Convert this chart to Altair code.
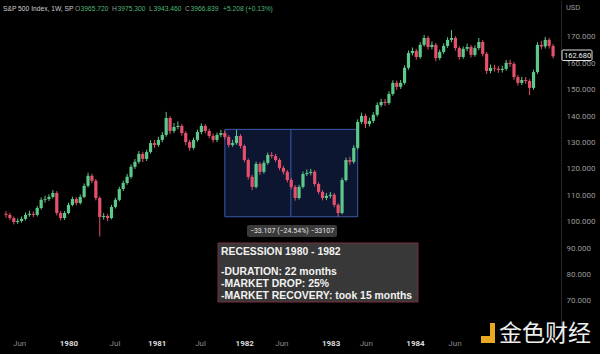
import altair as alt
import pandas as pd

# ---- data (weekly S&P 500, resampled to ~2-week candles) ----
first_open = 103.0
closes = [102.6, 101.4, 99.9, 100.3, 101.1, 102.6, 103.0, 102.6, 105.2, 108.3,
          108.6, 109.4, 110.9, 103.3, 101.4, 103.3, 106.4, 108.6, 107.1, 109.4,
          113.6, 117.4, 115.5, 109.0, 101.8, 102.2, 101.4, 105.6, 108.3, 112.4,
          114.7, 117.0, 120.8, 122.7, 125.7, 123.8, 126.4, 129.8, 129.1, 131.0,
          132.9, 139.3, 134.4, 135.9, 136.3, 133.6, 130.2, 128.0, 131.0, 134.0,
          136.3, 134.4, 132.5, 131.0, 132.9, 133.6, 132.1, 129.1, 129.8, 132.5,
          128.7, 123.4, 117.0, 113.2, 121.9, 118.9, 122.3, 125.3, 124.9, 123.4,
          120.4, 118.9, 115.8, 113.2, 109.0, 113.2, 118.1, 118.5, 118.9, 114.3,
          111.3, 109.0, 109.8, 110.2, 106.4, 103.3, 115.8, 123.4, 122.7, 128.0,
          137.8, 140.1, 137.0, 138.2, 140.5, 144.2, 145.4, 145.0, 148.4, 152.6,
          151.1, 152.6, 158.3, 163.9, 164.7, 162.4, 167.0, 169.6, 166.2, 167.0,
          162.0, 164.3, 166.6, 168.9, 169.6, 165.8, 162.4, 165.5, 166.2, 163.2,
          165.8, 168.1, 163.6, 157.1, 158.3, 158.0, 157.5, 157.9, 160.2, 159.8,
          154.8, 152.6, 153.7, 153.3, 150.7, 156.7, 167.0, 166.4, 168.9, 166.6,
          162.68]
highs = [104.0, 103.4, 102.0, 101.2, 102.0, 103.5, 104.2, 103.9, 106.0, 109.2,
         109.9, 110.4, 112.0, 111.6, 104.1, 104.0, 107.2, 109.5, 109.3, 110.3,
         114.5, 118.6, 118.2, 116.2, 109.6, 103.3, 103.0, 106.4, 109.1, 113.3,
         115.6, 118.1, 121.7, 123.8, 126.8, 126.5, 127.3, 130.9, 131.0, 132.2,
         134.0, 141.6, 140.0, 137.4, 138.0, 137.0, 134.3, 131.0, 131.9, 134.9,
         137.3, 137.0, 135.2, 133.4, 133.8, 134.8, 134.5, 132.8, 131.0, 134.8,
         133.2, 129.3, 124.0, 117.8, 122.8, 122.6, 123.2, 126.2, 126.4, 125.7,
         124.1, 121.2, 119.6, 116.6, 113.9, 114.0, 119.0, 119.8, 120.0, 119.6,
         115.0, 112.0, 110.9, 111.3, 110.9, 107.0, 116.7, 124.3, 124.6, 129.0,
         138.8, 141.3, 140.9, 139.4, 141.5, 145.2, 146.6, 146.5, 149.4, 153.6,
         153.5, 153.7, 159.3, 164.9, 166.0, 165.5, 168.0, 170.8, 170.4, 168.3,
         167.7, 165.2, 167.6, 169.9, 172.6, 170.3, 166.5, 166.4, 167.5, 167.0,
         166.8, 169.6, 168.8, 164.3, 159.6, 159.5, 159.0, 159.1, 161.3, 161.4,
         160.5, 155.6, 154.9, 154.8, 154.0, 157.6, 168.0, 168.5, 170.0, 169.7,
         167.3]
lows = [101.5, 100.6, 99.0, 99.2, 99.6, 100.5, 101.9, 101.7, 102.0, 104.6,
        107.2, 107.9, 108.8, 102.4, 100.5, 100.7, 102.8, 105.9, 106.2, 106.5,
        108.9, 113.0, 114.6, 108.1, 94.4, 100.8, 100.2, 100.9, 105.0, 107.7,
        111.6, 114.0, 116.3, 120.0, 122.0, 122.6, 123.0, 125.8, 128.0, 128.4,
        130.1, 132.2, 133.2, 133.6, 135.0, 132.6, 129.0, 126.9, 127.3, 130.3,
        133.2, 133.5, 131.6, 130.0, 130.2, 132.0, 131.2, 128.2, 128.4, 129.2,
        127.8, 122.5, 116.0, 112.0, 112.6, 117.8, 118.2, 121.6, 124.0, 122.6,
        119.5, 117.9, 114.9, 112.3, 108.0, 108.4, 112.6, 117.3, 117.6, 113.4,
        110.4, 108.1, 108.2, 108.9, 105.5, 101.9, 102.8, 115.2, 121.6, 122.0,
        127.4, 137.0, 135.5, 136.1, 137.4, 139.8, 143.4, 143.9, 144.3, 147.7,
        150.0, 150.3, 151.9, 157.6, 163.0, 161.4, 161.7, 166.3, 165.2, 165.3,
        160.8, 161.2, 163.6, 165.9, 168.0, 164.8, 161.4, 161.7, 164.6, 162.2,
        162.5, 165.0, 162.6, 156.0, 156.2, 156.9, 156.4, 156.5, 157.2, 158.7,
        153.8, 151.6, 151.8, 152.2, 148.0, 150.0, 156.0, 165.3, 165.6, 165.6,
        161.9]

tick_labels = ["Jun", "1980", "Jul", "1981", "Jul", "1982", "Jun", "1983", "Jun", "1984", "Jun"]
tick_pos = [3.5, 16.1, 27.9, 38.7, 49.8, 61.1, 70.6, 83.2, 92.2, 104.8, 114.9]
tick_is_year = [False, True, False, True, False, True, False, True, False, True, False]

y_ticks = [70, 80, 90, 100, 110, 120, 130, 140, 150, 160, 170]

box_x = [56.0, 90.0]
box_top = 135.0
box_bottom = 101.893
box_mid = 72.9
last_price = 162.68

UP = "#5cc98a"
DOWN = "#e6506c"

opens = [first_open] + closes[:-1]
df = pd.DataFrame({
    "i": list(range(len(closes))),
    "open": opens, "close": closes, "high": highs, "low": lows,
})

xs = alt.Scale(domain=[-0.25, 140.75], nice=False, zero=False)
ys = alt.Scale(domain=[57.1, 184.0], nice=False, zero=False)

yaxis = alt.Axis(orient="right", values=y_ticks, format=".3f", labelColor="#9a9a9a",
                 labelFontSize=8, labelFont="Roboto", ticks=False, grid=False,
                 domain=True, domainColor="#262626", labelPadding=5, title=None)

color = alt.condition("datum.close >= datum.open", alt.value(UP), alt.value(DOWN))

base = alt.Chart(df)
wicks = base.mark_rule(strokeWidth=1).encode(
    x=alt.X("i:Q", scale=xs, axis=None),
    y=alt.Y("low:Q", scale=ys, axis=yaxis),
    y2="high:Q",
    color=color,
)
bodies = base.mark_bar(size=3.2).encode(
    x=alt.X("i:Q", scale=xs, axis=None),
    y=alt.Y("open:Q", scale=ys, axis=yaxis),
    y2="close:Q",
    color=color,
)

box_df = pd.DataFrame({"x0": [box_x[0]], "x1": [box_x[1]], "top": [box_top],
                       "bot": [box_bottom], "mid": [box_mid]})
box = alt.Chart(box_df).mark_rect(fill="#0c1631", stroke="#3d5aa8", strokeWidth=1).encode(
    x=alt.X("x0:Q", scale=xs, axis=None), x2="x1:Q",
    y=alt.Y("top:Q", scale=ys, axis=yaxis), y2="bot:Q",
)
box_line = alt.Chart(box_df).mark_rule(color="#3d5aa8", strokeWidth=1).encode(
    x=alt.X("mid:Q", scale=xs, axis=None),
    y=alt.Y("top:Q", scale=ys, axis=yaxis), y2="bot:Q",
)

ticks_df = pd.DataFrame({"lab": tick_labels, "pos": tick_pos, "yr": tick_is_year})
xlab_years = alt.Chart(ticks_df).transform_filter("datum.yr").mark_text(
    fontSize=8, font="Roboto", fontWeight="bold", baseline="middle", color="#dcdcdc").encode(
    x=alt.X("pos:Q", scale=xs, axis=None), y=alt.value(344), text="lab:N")
xlab_months = alt.Chart(ticks_df).transform_filter("!datum.yr").mark_text(
    fontSize=8, font="Roboto", baseline="middle", color="#8a8a8a").encode(
    x=alt.X("pos:Q", scale=xs, axis=None), y=alt.value(344), text="lab:N")


def one(text):
    return alt.Chart(pd.DataFrame({"t": [text]}))


def label(text, x, y, color="#cccccc", size=8, weight="normal", align="left",
          font="Roboto", baseline="middle"):
    return one(text).mark_text(align=align, baseline=baseline, fontSize=size, fontWeight=weight,
                               font=font, color=color).encode(
        x=alt.value(x), y=alt.value(y), text="t:N")


def rect(x, x2, y, y2, fill, stroke=None, sw=1, r=0):
    kw = dict(fill=fill, cornerRadius=r)
    if stroke:
        kw.update(stroke=stroke, strokeWidth=sw)
    return one("r").mark_rect(**kw).encode(
        x=alt.value(x), x2=alt.value(x2), y=alt.value(y), y2=alt.value(y2))


G = "#4fb878"
HF = "Liberation Sans"
HS = 6.7
header = [
    label("S&P 500 Index, 1W, SP", 3, 9, color="#cfcfcf", size=HS, font=HF),
    label("O", 75, 9, color="#9a9a9a", size=HS, font=HF), label("3965.720", 80.5, 9, color=G, size=HS, font=HF),
    label("H", 112, 9, color="#9a9a9a", size=HS, font=HF), label("3975.300", 117.5, 9, color=G, size=HS, font=HF),
    label("L", 149, 9, color="#9a9a9a", size=HS, font=HF), label("3943.460", 153.5, 9, color=G, size=HS, font=HF),
    label("C", 185, 9, color="#9a9a9a", size=HS, font=HF), label("3966.839", 190.5, 9, color=G, size=HS, font=HF),
    label("+5.208 (+0.13%)", 223, 9, color=G, size=HS, font=HF),
    label("USD", 566, 8, color="#9a9a9a", size=7.5),
]

measure = [
    rect(247, 337, 225, 237, "#3a3a3a", r=2),
    label("\u221233.107 (\u221224.54%) \u221233107", 292, 231, color="#e6e6e6", size=7, align="center"),
]

note_lines = ["RECESSION 1980 - 1982", "-DURATION: 22 months", "-MARKET DROP: 25%",
              "-MARKET RECOVERY: took 15 months"]
note_y = [252, 272, 284, 296]
note = [rect(218, 418, 243, 302, "#383838", stroke="#7a2f3c", sw=1)]
for t, yy in zip(note_lines, note_y):
    note.append(label(t, 221, yy, color="#f2f2f2", size=10.4, weight="bold",
                      font="Liberation Sans"))

price_tag = [
    rect(562, 592, 50, 60.5, "#000000", stroke="#e0e0e0", sw=1, r=1),
    label(f"{last_price:.3f}", 564, 55.5, color="#f0f0f0", size=7.5),
]

watermark = [
    rect(481, 495, 323, 343, "#e8a820"),
    rect(481, 490, 323, 336, "#000000"),
    label("金色财经", 499, 334, color="#eeeeee", size=23, font="Noto Sans CJK SC"),
]

chart = alt.layer(
    box, box_line, wicks, bodies, xlab_years, xlab_months,
    *header, *measure, *note, *price_tag, *watermark
).properties(
    width=561, height=335,
    autosize=alt.AutoSizeParams(type="none"),
    padding={"left": 0, "top": 0, "right": 39, "bottom": 19},
    background="#000000",
).configure_view(stroke=None)

chart.save("out.html", embed_options={"renderer": "svg", "actions": False})
